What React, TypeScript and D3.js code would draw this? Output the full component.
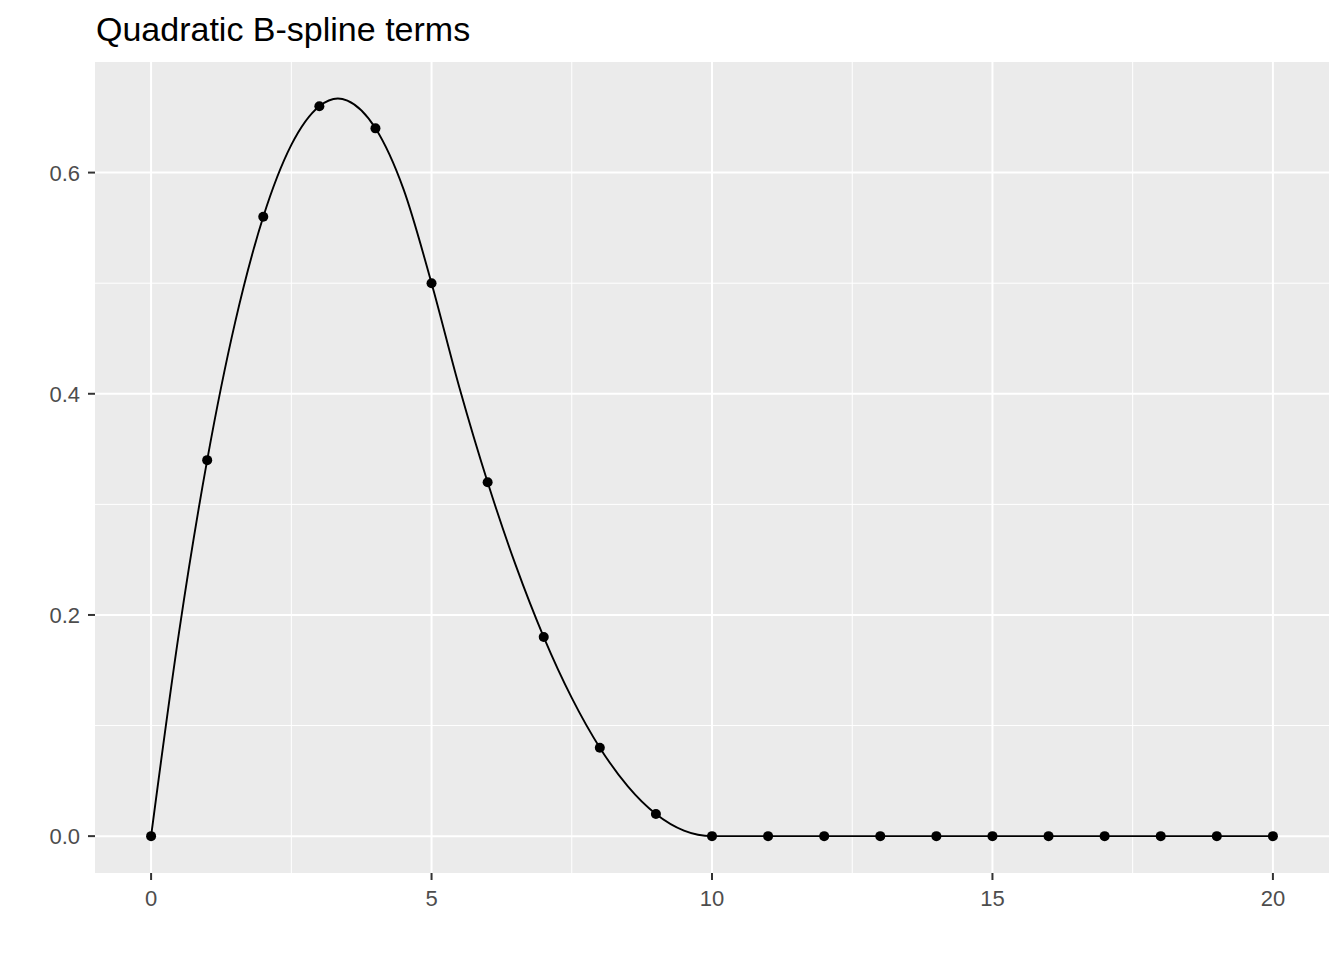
import React from "react";
import * as d3 from "d3";

const title = "Quadratic B-spline terms";

// observed points
const pointX = [0, 1, 2, 3, 4, 5, 6, 7, 8, 9, 10, 11, 12, 13, 14, 15, 16, 17, 18, 19, 20];
const pointY = [0, 0.34, 0.56, 0.66, 0.64, 0.5, 0.32, 0.18, 0.08, 0.02, 0, 0, 0, 0, 0, 0, 0, 0, 0, 0, 0];

// curve samples
const curveX = [0, 0.5, 1, 1.5, 2, 2.5, 3, 3.33, 3.5, 4, 4.5, 5, 5.5, 6, 6.5, 7, 7.5, 8, 8.5, 9, 9.5, 10, 11, 12, 13, 14, 15, 16, 17, 18, 19, 20];
const curveY = [0, 0.185, 0.34, 0.465, 0.56, 0.625, 0.66, 0.667, 0.665, 0.64, 0.585, 0.5, 0.405, 0.32, 0.245, 0.18, 0.125, 0.08, 0.045, 0.02, 0.005, 0, 0, 0, 0, 0, 0, 0, 0, 0, 0, 0];

const xMajor = [0, 5, 10, 15, 20];
const xMinor = [2.5, 7.5, 12.5, 17.5];
const yMajor = [0, 0.2, 0.4, 0.6];
const yMinor = [0.1, 0.3, 0.5];

const W = 1344;
const H = 960;
const panel = { left: 95, right: 1329, top: 62, bottom: 873 };

export default function App() {
  const x = d3.scaleLinear().domain([-1, 21]).range([panel.left, panel.right]);
  const y = d3.scaleLinear().domain([-0.03333, 0.7]).range([panel.bottom, panel.top]);

  const curve = curveX.map((v, i) => [v, curveY[i]] as [number, number]);
  const line = d3
    .line<[number, number]>()
    .x((d) => x(d[0]))
    .y((d) => y(d[1]))
    .curve(d3.curveMonotoneX);

  const font = "'Liberation Sans', Arial, sans-serif";

  return (
    <svg
      width={W}
      height={H}
      style={{ position: "absolute", left: 0, top: 0, background: "#fff" }}
      fontFamily={font}
    >
      <rect x={0} y={0} width={W} height={H} fill="#fff" />
      <rect
        x={panel.left}
        y={panel.top}
        width={panel.right - panel.left}
        height={panel.bottom - panel.top}
        fill="#EBEBEB"
      />
      {yMinor.map((v) => (
        <line key={"ym" + v} x1={panel.left} x2={panel.right} y1={y(v)} y2={y(v)} stroke="#fff" strokeWidth={1} />
      ))}
      {xMinor.map((v) => (
        <line key={"xm" + v} x1={x(v)} x2={x(v)} y1={panel.top} y2={panel.bottom} stroke="#fff" strokeWidth={1} />
      ))}
      {yMajor.map((v) => (
        <line key={"yM" + v} x1={panel.left} x2={panel.right} y1={y(v)} y2={y(v)} stroke="#fff" strokeWidth={2} />
      ))}
      {xMajor.map((v) => (
        <line key={"xM" + v} x1={x(v)} x2={x(v)} y1={panel.top} y2={panel.bottom} stroke="#fff" strokeWidth={2} />
      ))}

      <path d={line(curve) || ""} fill="none" stroke="#000" strokeWidth={1.9} />
      {pointX.map((v, i) => (
        <circle key={"p" + i} cx={x(v)} cy={y(pointY[i])} r={5} fill="#000" />
      ))}

      {/* y axis */}
      {yMajor.map((v) => (
        <g key={"yt" + v}>
          <line x1={panel.left - 7} x2={panel.left} y1={y(v)} y2={y(v)} stroke="#333" strokeWidth={2} />
          <text x={panel.left - 15} y={y(v)} dy="0.36em" textAnchor="end" fontSize={22} fill="#4D4D4D">
            {d3.format(".1f")(v)}
          </text>
        </g>
      ))}
      {/* x axis */}
      {xMajor.map((v) => (
        <g key={"xt" + v}>
          <line x1={x(v)} x2={x(v)} y1={panel.bottom} y2={panel.bottom + 7} stroke="#333" strokeWidth={2} />
          <text x={x(v)} y={906} textAnchor="middle" fontSize={22} fill="#4D4D4D">
            {v}
          </text>
        </g>
      ))}

      <text x={96} y={41} fontSize={34} fill="#000">
        {title}
      </text>
    </svg>
  );
}
